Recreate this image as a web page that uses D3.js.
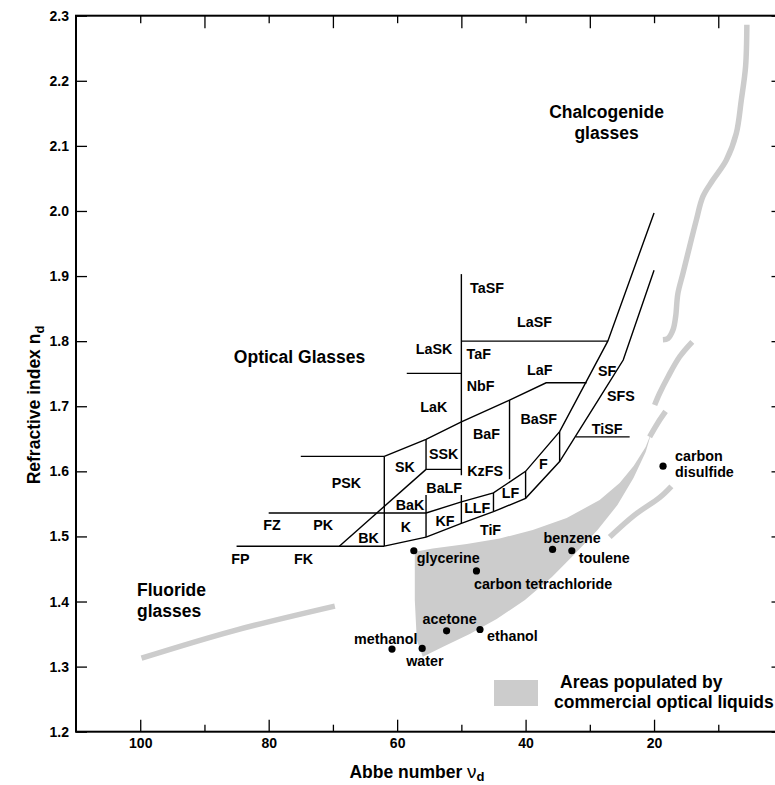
<!DOCTYPE html>
<html lang="en">
<head>
<meta charset="UTF-8" />
<title>Optical glasses and optical liquids</title>
<script src="https://d3js.org/d3.v7.min.js"></script>
<style>
  body { margin: 0; background: #fff; }
  svg { display: block; font-family: "Liberation Sans", Arial, Helvetica, sans-serif; font-weight: bold; }
  .tick line { stroke: #000; stroke-width: 1.3; }
  .tick text { font-size: 14px; font-weight: bold; fill: #000; font-family: "Liberation Sans", Arial, sans-serif; }
  .glass-line { fill: none; stroke: #000; stroke-width: 1.4; }
  .band { fill: none; stroke: #cccccc; stroke-width: 5.5; }
  .small-label { font-size: 14.3px; }
  .region-label { font-size: 17.5px; }
</style>
</head>
<body>
<svg width="775" height="785"></svg>
<script>
// glass family labels (Abbe number, refractive index at label centre)
const glassNames = ["TaSF","LaSF","TaF","LaF","NbF","LaSK","LaK","BaF","BaSF","SSK","SK","KzFS","PSK","BaLF",
                    "BaK","LF","F","LLF","KF","K","TiF","PK","BK","FZ","FP","FK","SF","SFS","TiSF"];
const glassAbbe  = [46.0,38.6,47.3,37.8,47.0,54.25,54.3,46.1,37.96,52.74,58.8,46.3,67.9,52.67,
                    58.0,42.35,37.23,47.53,52.54,58.65,45.46,71.5,64.44,79.5,84.4,74.56,27.3,25.15,27.3];
const glassIndex = [1.881,1.829,1.780,1.756,1.731,1.788,1.699,1.658,1.681,1.627,1.607,1.601,1.582,1.574,
                    1.548,1.567,1.611,1.543,1.524,1.514,1.510,1.517,1.498,1.518,1.466,1.466,1.754,1.716,1.665];

// boundaries of the glass map, each a polyline of [abbe, nd]
const glassBoundaries = [
  [[85,1.485],[62,1.485]],
  [[80,1.536],[55.5,1.536]],
  [[75,1.623],[62,1.623]],
  [[62,1.485],[62,1.623]],
  [[62,1.623],[55.5,1.649],[50,1.676],[42.5,1.7095],[36.8,1.736],[30.5,1.736]],
  [[69,1.485],[55.5,1.603]],
  [[55.5,1.649],[55.5,1.603]],
  [[55.5,1.603],[50,1.603]],
  [[58.5,1.7505],[50,1.7505]],
  [[50,1.903],[50,1.594]],
  [[50,1.5636],[50,1.520]],
  [[55.5,1.5636],[55.5,1.499]],
  [[50,1.8],[27.2,1.8]],
  [[55.5,1.536],[50,1.553],[45,1.567],[40,1.600],[34.7,1.661],[27.2,1.8],[20,1.997]],
  [[62,1.485],[55.5,1.499],[50,1.520],[45,1.538],[40,1.5585],[34.7,1.615],[28.7,1.7095],[24.8,1.771],[20,1.909]],
  [[42.5,1.7095],[42.5,1.588]],
  [[45,1.567],[45,1.538]],
  [[40,1.600],[40,1.5585]],
  [[34.7,1.661],[34.7,1.615]],
  [[32.2,1.653],[23.8,1.653]]
];

// liquids
const liquidNames = ["glycerine","carbon tetrachloride","benzene","toulene","acetone","ethanol","methanol","water","carbon\ndisulfide"];
const liquidAbbe  = [57.4,47.65,35.8,32.8,52.3,47.1,60.8,56.1,18.6];
const liquidIndex = [1.478,1.447,1.480,1.478,1.355,1.357,1.327,1.328,1.608];

// area populated by commercial optical liquids
const liquidArea = [
  [57.25,1.4765],[54.45,1.4814],[49.16,1.4883],[44.03,1.4968],[38.89,1.5098],[33.6,1.5283],[28.47,1.5559],
  [25.36,1.582],[23.18,1.6081],[21.31,1.6373],[20.38,1.6604],
  [21.3,1.6297],[23.2,1.5897],[25.7,1.5482],[28.8,1.5098],[32.2,1.4745],[35.9,1.4376],[40.1,1.4023],
  [44.5,1.3731],[48.7,1.3501],[52.6,1.3316],[56.0,1.3152],[56.94,1.3409],[57.25,1.4023]
];

// grey bands
const chalcogenideBand = [[5.55,2.286],[5.75,2.2215],[6.42,2.170],[7.2,2.119],[8.76,2.078],[10.84,2.0475],[12.4,2.022],
  [13.42,1.986],[14.47,1.945],[15.5,1.904],[16.29,1.873],[16.64,1.8375],[17.06,1.817],[17.84,1.804],[18.62,1.802]];
const bandB = [[14.05,1.799],[16.02,1.776],[17.84,1.745],[19.13,1.720],[19.91,1.702]];
const bandC = [[18.2,1.692],[19.44,1.674],[20.69,1.653]];
const bandD = [[26.9,1.499],[23.0,1.533],[19.1,1.56],[17.3,1.577]];
const fluorideBand = [[99.8,1.313],[85.5,1.355],[69.7,1.393]];

const xMajor = [100,80,60,40,20];
const xMinor = [90,70,50,30,10];
const yTicks = [1.2,1.3,1.4,1.5,1.6,1.7,1.8,1.9,2.0,2.1,2.2,2.3];

const svg = d3.select("svg");
const x = d3.scaleLinear().domain([110, 0]).range([76, 782.5]);
const y = d3.scaleLinear().domain([1.2, 2.3]).range([731.7, 15.7]);

const line = d3.line().x(d => x(d[0])).y(d => y(d[1]));
const smooth = d3.line().x(d => x(d[0])).y(d => y(d[1])).curve(d3.curveCatmullRom);

// liquid area
svg.append("path")
  .attr("d", line(liquidArea) + "Z")
  .attr("fill", "#cccccc");

// grey bands
[chalcogenideBand, bandB, bandC, bandD, fluorideBand].forEach(b => {
  svg.append("path").attr("class", "band").attr("d", smooth(b));
});

// glass map
svg.append("g").selectAll("path")
  .data(glassBoundaries)
  .join("path")
    .attr("class", "glass-line")
    .attr("d", line);

svg.append("g").selectAll("text")
  .data(glassNames)
  .join("text")
    .attr("class", "small-label")
    .attr("x", (d, i) => x(glassAbbe[i]))
    .attr("y", (d, i) => y(glassIndex[i]))
    .attr("dy", "0.35em")
    .attr("text-anchor", "middle")
    .text(d => d);

// liquids: dots and labels
const labelOffset = [[3,7],[-2.5,13],[-9,-11],[7,7],[-24,-11.5],[7,6],[-38,-10],[-16,13],[12,-10]];
svg.append("g").selectAll("circle")
  .data(liquidNames)
  .join("circle")
    .attr("cx", (d, i) => x(liquidAbbe[i]))
    .attr("cy", (d, i) => y(liquidIndex[i]))
    .attr("r", 3.6)
    .attr("fill", "#000");

liquidNames.forEach((name, i) => {
  const t = svg.append("text")
    .attr("class", "small-label")
    .attr("x", x(liquidAbbe[i]) + labelOffset[i][0])
    .attr("y", y(liquidIndex[i]) + labelOffset[i][1]);
  name.split("\n").forEach((part, k) => {
    t.append("tspan")
      .attr("x", x(liquidAbbe[i]) + labelOffset[i][0])
      .attr("dy", k === 0 ? "0.35em" : "1.1em")
      .text(part);
  });
});

// region titles
function multiLabel(lines, v, n, anchor) {
  const t = svg.append("text").attr("class", "region-label")
    .attr("text-anchor", anchor)
    .attr("x", x(v)).attr("y", y(n));
  lines.forEach((s, k) => t.append("tspan").attr("x", x(v)).attr("dy", k === 0 ? "0.35em" : "1.2em").text(s));
}
multiLabel(["Optical Glasses"], 75.2, 1.776, "middle");
multiLabel(["Chalcogenide", "glasses"], 27.4, 2.152, "middle");
multiLabel(["Fluoride", "glasses"], 100.5, 1.418, "start");

// legend
svg.append("rect").attr("x", 494).attr("y", 680).attr("width", 44).attr("height", 26).attr("fill", "#cccccc");
svg.append("text").attr("class", "region-label").attr("x", 560).attr("y", 688).text("Areas populated by");
svg.append("text").attr("class", "region-label").attr("x", 554).attr("y", 708).text("commercial optical liquids");

// axes
svg.append("g").attr("transform", `translate(0,${y(1.2)})`)
  .call(d3.axisBottom(x).tickValues(xMajor).tickSize(-12).tickPadding(6).tickFormat(d3.format("d")));
svg.append("g").attr("transform", `translate(0,${y(1.2)})`)
  .call(d3.axisBottom(x).tickValues(xMinor).tickSize(-7).tickFormat(""));
svg.append("g").attr("transform", `translate(0,${y(2.3)})`)
  .call(d3.axisTop(x).tickValues(xMinor).tickSize(-12.5).tickFormat(""));
svg.append("g").attr("transform", `translate(0,${y(2.3)})`)
  .call(d3.axisTop(x).tickValues(xMajor).tickSize(-7.5).tickFormat(""));
svg.append("g").attr("transform", `translate(${x(110)},0)`)
  .call(d3.axisLeft(y).tickValues(yTicks).tickSize(-11).tickPadding(7).tickFormat(d3.format(".1f")));
svg.append("g").attr("transform", `translate(${x(0)},0)`)
  .call(d3.axisRight(y).tickValues(yTicks).tickSize(-11).tickFormat(""));
svg.selectAll(".domain").remove();

svg.append("rect")
  .attr("x", x(110)).attr("y", y(2.3))
  .attr("width", x(0) - x(110)).attr("height", y(1.2) - y(2.3))
  .attr("fill", "none").attr("stroke", "#000").attr("stroke-width", 2);

// axis titles
const xt = svg.append("text").attr("class", "region-label").attr("text-anchor", "middle")
  .attr("x", 417).attr("y", 778);
xt.append("tspan").text("Abbe number ");
xt.append("tspan").attr("font-weight", "normal").attr("font-size", "19px").text("ν");
xt.append("tspan").attr("font-size", "13px").attr("dy", 3).text("d");

const yt = svg.append("text").attr("class", "region-label").attr("text-anchor", "middle")
  .attr("transform", "translate(40,405) rotate(-90)");
yt.append("tspan").text("Refractive index n");
yt.append("tspan").attr("font-size", "13px").attr("dy", 4).text("d");
</script>
</body>
</html>
